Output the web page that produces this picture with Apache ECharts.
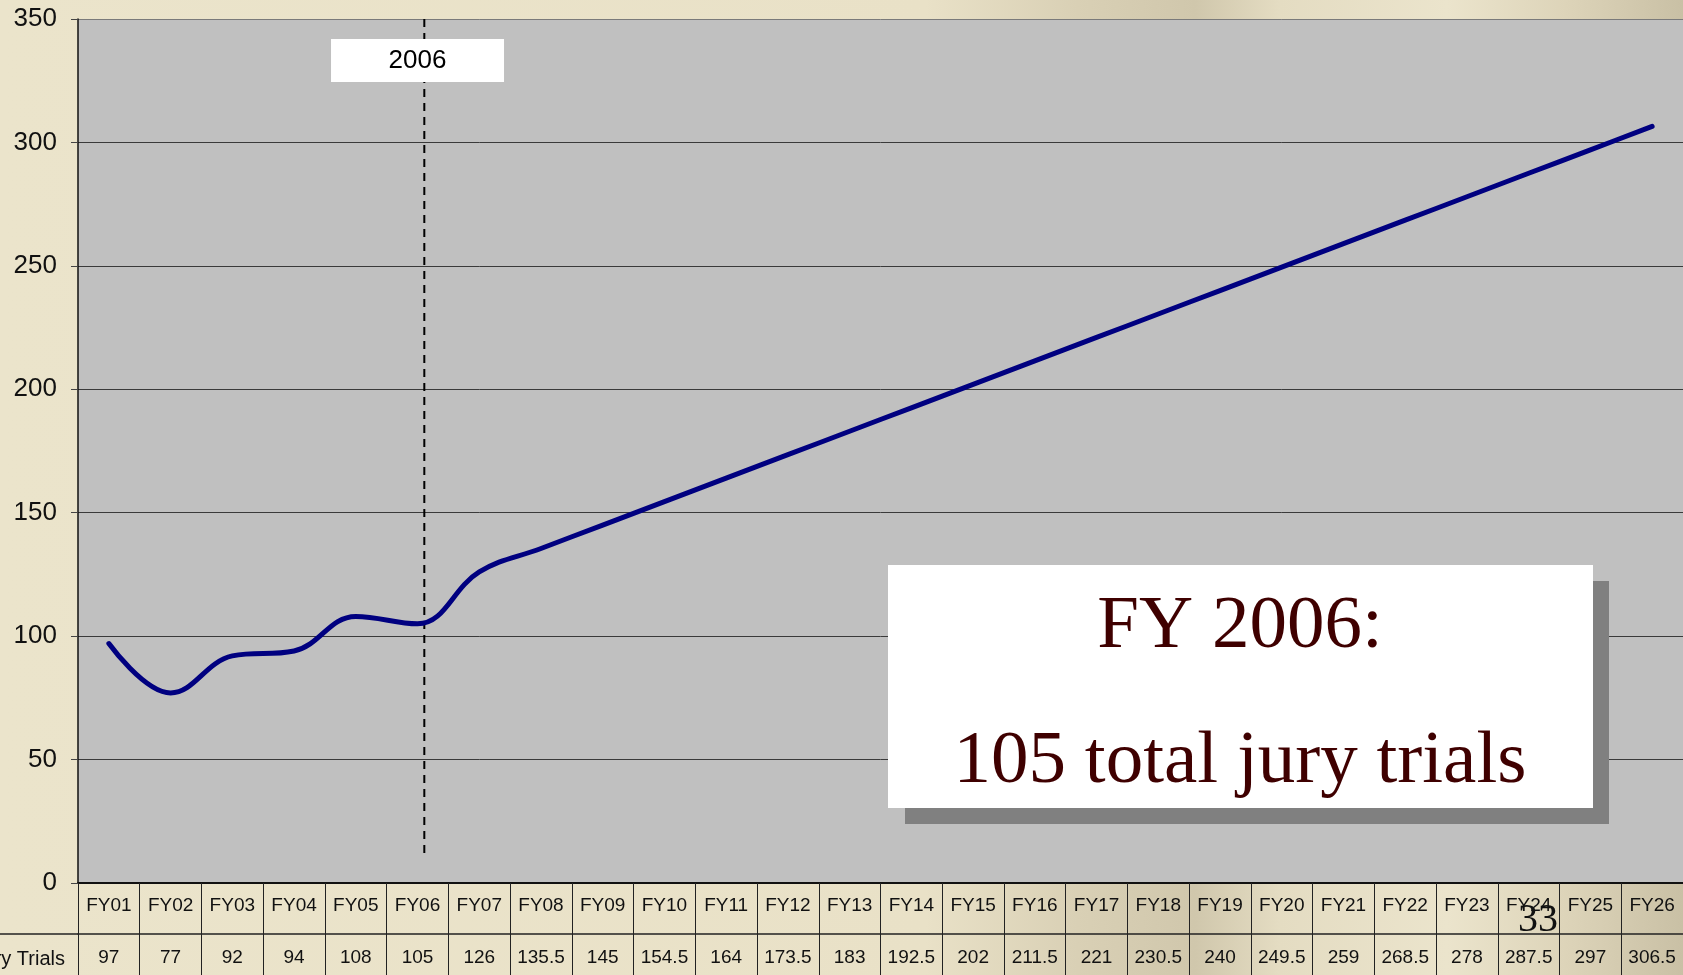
<!DOCTYPE html>
<html>
<head>
<meta charset="utf-8">
<title>Jury Trials</title>
<script src="https://cdn.jsdelivr.net/npm/echarts@6/dist/echarts.min.js"></script>
<style>
  html, body { margin: 0; padding: 0; background: #e9e1c7; }
  #chart { width: 1683px; height: 975px; }
</style>
</head>
<body>
<div id="chart"></div>
<script>
// 数据
const years = ['FY01', 'FY02', 'FY03', 'FY04', 'FY05', 'FY06', 'FY07', 'FY08', 'FY09', 'FY10', 'FY11', 'FY12', 'FY13',
  'FY14', 'FY15', 'FY16', 'FY17', 'FY18', 'FY19', 'FY20', 'FY21', 'FY22', 'FY23', 'FY24', 'FY25', 'FY26']
const trials = [97, 77, 92, 94, 108, 105, 126, 135.5, 145, 154.5, 164, 173.5, 183,
  192.5, 202, 211.5, 221, 230.5, 240, 249.5, 259, 268.5, 278, 287.5, 297, 306.5]
const yTicks = [0, 50, 100, 150, 200, 250, 300, 350]
const markYear = 'FY06'
const markLabel = '2006'
const rowLabel = 'Jury Trials'
const noteLines = ['FY 2006:', '105 total jury trials']
const pageNo = '33'

const tableFont = 'Liberation Sans'
// 虚线略偏右于 FY06 中心，从图顶到接近零线
const markIndex = years.indexOf(markYear) + 0.11
const markRange = [350, 10.5]

const chart = echarts.init(document.getElementById('chart'))

const option = {
  // 背景纹理（近似）
  backgroundColor: {
    type: 'linear', x: 0, y: 0, x2: 1, y2: 0,
    colorStops: [
      { offset: 0, color: '#ebe4cb' },
      { offset: 0.55, color: '#e9e1c7' },
      { offset: 0.64, color: '#d9d0b5' },
      { offset: 0.71, color: '#d0c7ac' },
      { offset: 0.76, color: '#e4dcc2' },
      { offset: 0.86, color: '#ebe4cc' },
      { offset: 0.93, color: '#ddd4b9' },
      { offset: 1, color: '#c9c0a5' }
    ]
  },
  animation: false,
  grid: {
    left: 78,
    top: 19,
    right: -4,
    bottom: 92,
    show: true,
    backgroundColor: '#c0c0c0',
    borderWidth: 0
  },
  xAxis: [
    {
      type: 'category',
      data: years,
      position: 'bottom',
      axisLine: { lineStyle: { color: '#111', width: 2 } },
      axisTick: { show: true, interval: 0, length: 51, lineStyle: { color: '#222', width: 1 } },
      axisLabel: {
        interval: 0,
        margin: 13,
        fontFamily: tableFont,
        fontSize: 19,
        color: '#111'
      }
    },
    {
      // 第二行：数值
      type: 'category',
      data: years,
      position: 'bottom',
      offset: 51,
      axisLine: { lineStyle: { color: '#222', width: 1.5 } },
      axisTick: { show: true, interval: 0, length: 50, lineStyle: { color: '#222', width: 1 } },
      axisLabel: {
        interval: 0,
        margin: 14,
        fontFamily: tableFont,
        fontSize: 19,
        color: '#111',
        formatter: function (val, idx) {
          return String(trials[idx])
        }
      }
    },
    {
      // 隐藏的数值轴，用于放置虚线
      type: 'value',
      show: false,
      min: -0.5,
      max: years.length - 0.5
    }
  ],
  yAxis: {
    type: 'value',
    min: yTicks[0],
    max: yTicks[yTicks.length - 1],
    interval: 50,
    axisLine: { show: true, onZero: false, lineStyle: { color: '#111', width: 1.5 } },
    axisTick: { show: true, length: 7, lineStyle: { color: '#444' } },
    axisLabel: {
      margin: 21,
      fontFamily: 'Liberation Sans',
      fontSize: 26,
      color: '#111'
    },
    splitLine: {
      lineStyle: {
        color: ['#3a3a3a', '#3a3a3a', '#3a3a3a', '#3a3a3a', '#3a3a3a', '#3a3a3a', '#3a3a3a', '#7a7a7a'],
        width: 1
      }
    }
  },
  series: [
    {
      name: markLabel,
      type: 'line',
      xAxisIndex: 2,
      data: markRange.map(function (v) { return [markIndex, v] }),
      symbol: 'none',
      silent: true,
      lineStyle: { color: '#000', type: [8, 6], width: 2 }
    },
    {
      name: rowLabel,
      type: 'line',
      data: trials,
      smooth: 0.4,
      symbol: 'none',
      lineStyle: { color: '#000080', width: 5, cap: 'round' },
      markPoint: {
        silent: true,
        symbol: 'rect',
        symbolSize: [173, 43],
        itemStyle: { color: '#ffffff' },
        label: {
          show: true,
          formatter: markLabel,
          fontFamily: 'Liberation Sans',
          fontSize: 26,
          color: '#000'
        },
        data: [{ coord: [markYear, 333.2] }]
      }
    }
  ],
  graphic: [
    // 第二行左侧标题和横线
    {
      type: 'line',
      z: 100,
      shape: { x1: 0, y1: 934, x2: 78, y2: 934 },
      style: { stroke: '#222', lineWidth: 1.5 }
    },
    {
      type: 'text',
      z: 100,
      x: 65,
      y: 959,
      style: {
        text: rowLabel,
        align: 'right',
        verticalAlign: 'middle',
        fontFamily: tableFont,
        fontSize: 20,
        fill: '#111'
      }
    },
    // 注释框
    {
      type: 'rect',
      z: 100,
      shape: { x: 905, y: 581, width: 704, height: 243 },
      style: { fill: '#808080' }
    },
    {
      type: 'rect',
      z: 101,
      shape: { x: 888, y: 565, width: 705, height: 243 },
      style: { fill: '#ffffff' }
    },
    {
      type: 'text',
      z: 102,
      x: 1240,
      y: 627,
      style: {
        text: noteLines[0],
        align: 'center',
        verticalAlign: 'middle',
        fontFamily: 'Liberation Serif',
        fontSize: 75,
        fill: '#3f0000'
      }
    },
    {
      type: 'text',
      z: 102,
      x: 1240,
      y: 762,
      style: {
        text: noteLines[1],
        align: 'center',
        verticalAlign: 'middle',
        fontFamily: 'Liberation Serif',
        fontSize: 75,
        fill: '#3f0000'
      }
    },
    // 页码
    {
      type: 'text',
      z: 102,
      x: 1538,
      y: 920,
      style: {
        text: pageNo,
        align: 'center',
        verticalAlign: 'middle',
        fontFamily: 'Liberation Serif',
        fontSize: 40,
        fill: '#111'
      }
    }
  ]
}

chart.setOption(option)
window.addEventListener('resize', function () { chart.resize() })
</script>
</body>
</html>
